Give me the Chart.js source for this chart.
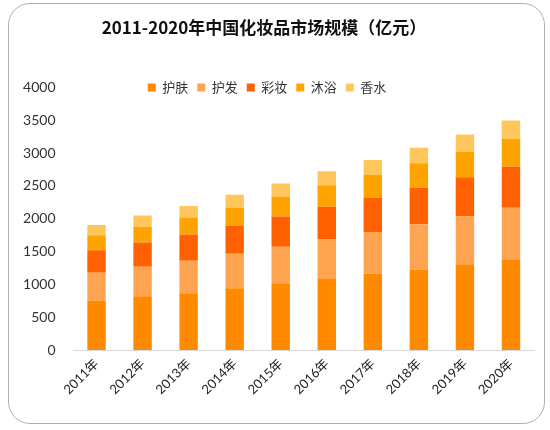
<!DOCTYPE html>
<html>
<head>
<meta charset="utf-8">
<script src="https://cdn.jsdelivr.net/npm/chart.js@4"></script>
<style>
    html, body { margin: 0; padding: 0; background: #ffffff; }
    .wrap { position: relative; width: 550px; height: 430px; }
    .frame {
        position: absolute; left: 8px; top: 3px; width: 535px; height: 419px;
        border: 1.5px solid #b0b0b0; border-radius: 22px; pointer-events: none;
    }
</style>
</head>
<body>
<div class="wrap">
    <canvas id="marketChart"></canvas>
    <div class="frame"></div>
</div>
<script>
// ===================================
// 化妆品市场规模 - 堆积柱状图
// ===================================

const years = ['2011年', '2012年', '2013年', '2014年', '2015年', '2016年', '2017年', '2018年', '2019年', '2020年'];

// 各品类规模（亿元）
const skinCare = [753, 818, 864, 939, 1015, 1081, 1162, 1227, 1308, 1383];
const hairCare = [424, 450, 495, 526, 556, 611, 636, 687, 727, 784];
const makeup   = [343, 368, 399, 424, 464, 490, 525, 556, 597, 625];
const bath     = [227, 243, 262, 282, 303, 328, 349, 374, 383, 425];
const perfume  = [158, 171, 172, 193, 197, 212, 222, 237, 268, 278];

const yTicks = [0, 500, 1000, 1500, 2000, 2500, 3000, 3500, 4000];

const FONT = "Lato, 'Noto Sans CJK SC', sans-serif";

// 图例压到绘图区顶部、标题稍微左移
const nudgeBoxes = {
    id: 'nudgeBoxes',
    afterLayout(chart) {
        const lg = chart.legend;
        if (lg) {
            const h = lg.bottom - lg.top;
            lg.top = 72;
            lg.bottom = 72 + h;
        }
        const tb = chart.titleBlock;
        if (tb) {
            tb.left -= 3;
            tb.right -= 3;
        }
    }
};

document.addEventListener('DOMContentLoaded', function() {

    const ctx = document.getElementById('marketChart').getContext('2d');

    const data = {
        labels: years,
        datasets: [
            { label: '护肤', data: skinCare, backgroundColor: '#FF8A00' },
            { label: '护发', data: hairCare, backgroundColor: '#FFA552' },
            { label: '彩妆', data: makeup,   backgroundColor: '#FF6000' },
            { label: '沐浴', data: bath,     backgroundColor: '#FFA300' },
            { label: '香水', data: perfume,  backgroundColor: '#FFC65C' }
        ]
    };

    const config = {
        type: 'bar',
        data: data,
        plugins: [nudgeBoxes],
        options: {
            responsive: true,
            maintainAspectRatio: false,
            animation: false,
            categoryPercentage: 0.8,
            barPercentage: 0.5,
            layout: {
                padding: { left: 0, right: 16, top: 0, bottom: 0 }
            },
            plugins: {
                title: {
                    display: true,
                    text: '2011-2020年中国化妆品市场规模（亿元）',
                    color: '#111111',
                    font: { family: "'Noto Sans CJK SC', sans-serif", size: 17, weight: 'bold' },
                    padding: { top: 17, bottom: 18 }
                },
                legend: {
                    position: 'top',
                    align: 'center',
                    labels: {
                        boxWidth: 8,
                        boxHeight: 8,
                        padding: 9,
                        color: '#333333',
                        font: { family: FONT, size: 13 }
                    }
                },
                tooltip: { enabled: false }
            },
            scales: {
                x: {
                    stacked: true,
                    grid: { display: false, drawTicks: false },
                    border: { display: true, color: '#d9d9d9', width: 1 },
                    ticks: {
                        color: '#222222',
                        font: { family: FONT, size: 13 },
                        maxRotation: 45,
                        minRotation: 45,
                        padding: 6
                    },
                    afterFit: function(scale) { scale.height = 80; }
                },
                y: {
                    stacked: true,
                    min: 0,
                    max: 4000,
                    grid: { display: false, drawTicks: false },
                    border: { display: false },
                    afterBuildTicks: function(scale) {
                        scale.ticks = yTicks.map(function(v) { return { value: v }; });
                    },
                    ticks: {
                        color: '#333333',
                        font: { family: FONT, size: 14 },
                        padding: 18,
                        callback: function(value) { return String(value); }
                    },
                    afterFit: function(scale) { scale.width = 73.5; }
                }
            }
        }
    };

    new Chart(ctx, config);
});
</script>
</body>
</html>
